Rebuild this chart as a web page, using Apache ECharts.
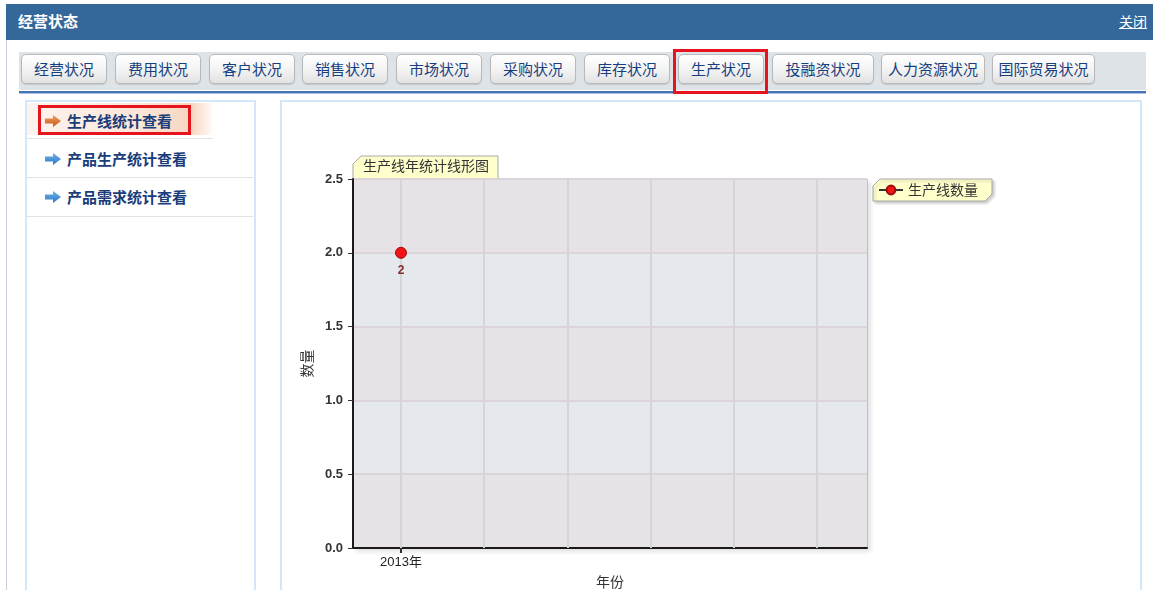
<!DOCTYPE html>
<html>
<head>
<meta charset="utf-8">
<script src="https://cdn.jsdelivr.net/npm/echarts@6/dist/echarts.min.js"></script>
<style>
  html, body { margin: 0; padding: 0; width: 1153px; height: 590px; overflow: hidden; background: #fff;
    font-family: 'Liberation Sans', 'Noto Sans CJK SC', sans-serif; }
  .abs { position: absolute; box-sizing: border-box; }
  #outerLine { left: 6px; top: 40px; width: 1px; height: 550px; background: #c6ced8; }
  #header { left: 6px; top: 4px; width: 1147px; height: 36px; background: #34689b; }
  #header .t { position: absolute; left: 12px; top: 6px; color: #fff; font-weight: bold; font-size: 15px; line-height: 22px;
    font-family: 'Noto Sans CJK SC', sans-serif; }
  #header .c { position: absolute; right: 6px; top: 7px; color: #fff; font-size: 14px; line-height: 20px; text-decoration: underline;
    font-family: 'Noto Sans CJK SC', sans-serif; }
  #tabbar { left: 19px; top: 52px; width: 1127px; height: 38px; background: #dee3e7; }
  #tabline { left: 19px; top: 91px; width: 1127px; height: 3px; background: #4474b4; border-bottom: 1px solid #a9c1e0; }
  .tab { position: absolute; top: 54px; height: 30px; border: 1px solid #b9b9b9; border-radius: 5px;
    background: linear-gradient(#ffffff, #f4f4f4 50%, #e2e2e2); box-shadow: 0 1px 1px rgba(0,0,0,0.12);
    color: #163f80; font-size: 15px; line-height: 28px; text-align: center; box-sizing: border-box;
    font-family: 'Noto Sans CJK SC', sans-serif; white-space: nowrap; }
  #redTab { left: 673px; top: 49px; width: 95px; height: 45px; border: 3px solid #e6141c; }
  #leftPanel { left: 25px; top: 100px; width: 231px; height: 500px; border: 2px solid #d3e7fa; border-bottom: none; }
  #chartPanel { left: 280px; top: 100px; width: 862px; height: 500px; border: 2px solid #d3e7fa; border-bottom: none; }
  .menu { position: absolute; left: 67px; font-size: 15px; font-weight: bold; color: #1a3d7a; line-height: 20px;
    font-family: 'Noto Sans CJK SC', sans-serif; white-space: nowrap; }
  .sep { position: absolute; left: 27px; height: 1px; background: #e2e2e2; }
  #hl { left: 27px; top: 103px; width: 186px; height: 32px;
    background: linear-gradient(to right, #fdf4ef 0%, #fbe6d8 60%, #f7d5c0 88%, #fdf1ea 97%, #ffffff 100%); }
  #redMenu { left: 38px; top: 105px; width: 153px; height: 30px; border: 3px solid #e6141c; }
  .arrow { position: absolute; left: 45px; width: 16px; height: 12px; }
  #chart { position: absolute; left: 282px; top: 102px; width: 858px; height: 488px; }
</style>
</head>
<body>
<div class="abs" id="outerLine"></div>
<div class="abs" id="header"><span class="t">经营状态</span><span class="c">关闭</span></div>
<div class="abs" id="tabbar"></div>
<div class="abs" id="tabline"></div>
<div id="tabs"></div>
<div class="abs" id="redTab"></div>

<div class="abs" id="leftPanel"></div>
<div class="abs" id="hl"></div>
<div class="sep" style="top:138px; width:186px;"></div>
<div class="sep" style="top:177px; width:226px;"></div>
<div class="sep" style="top:216px; width:226px;"></div>
<svg class="arrow" style="top:115px" viewBox="0 0 16 12"><defs><linearGradient id="go" x1="0" y1="0" x2="0" y2="1"><stop offset="0" stop-color="#f2a15a"/><stop offset="1" stop-color="#c8561a"/></linearGradient></defs><polygon points="0,3.5 8,3.5 8,0 16,6 8,12 8,8.5 0,8.5" fill="url(#go)"/></svg>
<svg class="arrow" style="top:153px" viewBox="0 0 16 12"><defs><linearGradient id="gb" x1="0" y1="0" x2="0" y2="1"><stop offset="0" stop-color="#6fb3ea"/><stop offset="1" stop-color="#2a78c8"/></linearGradient></defs><polygon points="0,3.5 8,3.5 8,0 16,6 8,12 8,8.5 0,8.5" fill="url(#gb)"/></svg>
<svg class="arrow" style="top:191px" viewBox="0 0 16 12"><polygon points="0,3.5 8,3.5 8,0 16,6 8,12 8,8.5 0,8.5" fill="url(#gb)"/></svg>
<div class="menu" style="top:111px">生产线统计查看</div>
<div class="menu" style="top:149px">产品生产统计查看</div>
<div class="menu" style="top:187px">产品需求统计查看</div>
<div class="abs" id="redMenu"></div>

<div class="abs" id="chartPanel"></div>
<div id="chart"></div>

<script>
// ---- data ----
const tabNames = ['经营状况', '费用状况', '客户状况', '销售状况', '市场状况', '采购状况', '库存状况', '生产状况', '投融资状况', '人力资源状况', '国际贸易状况'];
const tabLefts = [21, 115, 209, 302, 396, 490, 584, 678, 772, 881, 992];
const tabWidths = [86, 86, 86, 86, 86, 86, 86, 86, 102, 104, 103];
const categories = ['2013年', '', '', '', '', ''];
const lineCounts = [2];
const seriesName = '生产线数量';
const chartTitle = '生产线年统计线形图';

// ---- tabs ----
const tabsEl = document.getElementById('tabs');
tabNames.forEach(function (n, i) {
  const d = document.createElement('div');
  d.className = 'tab';
  d.style.left = tabLefts[i] + 'px';
  d.style.width = tabWidths[i] + 'px';
  d.textContent = n;
  tabsEl.appendChild(d);
});

// ---- chart ----
const chart = echarts.init(document.getElementById('chart'), null, { renderer: 'canvas' });
const font = "'Liberation Sans', 'Noto Sans CJK SC', sans-serif";
const cjk = "'Noto Sans CJK SC', sans-serif";
chart.setOption({
  animation: false,
  textStyle: { fontFamily: font },
  title: {
    text: chartTitle, left: 81, top: 57, padding: 0,
    textStyle: { fontSize: 14, fontWeight: 'normal', color: '#333', fontFamily: cjk }
  },
  legend: {
    data: [seriesName], left: 596, top: 81, padding: 0, itemWidth: 24, itemHeight: 11, itemGap: 5,
    textStyle: { fontSize: 14, color: '#333', fontFamily: cjk }
  },
  graphic: [
    { type: 'polygon', z: -1, shape: { points: [[71, 62], [79, 54], [216, 54], [216, 77], [71, 77]] },
      style: { fill: '#ffffcc', stroke: '#a9a9a9', lineWidth: 1 } },
    { type: 'polygon', z: -1, shape: { points: [[591, 84], [598, 77], [710, 77], [710, 92], [703, 99], [591, 99]] },
      style: { fill: '#ffffcc', stroke: '#a9a9a9', lineWidth: 1, shadowColor: 'rgba(0,0,0,0.2)', shadowBlur: 3, shadowOffsetX: 2, shadowOffsetY: 2 } }
  ],
  grid: [
    { left: 71, top: 77, width: 514, height: 369, show: true, backgroundColor: '#e7e2e6',
      outerBoundsMode: 'none', containLabel: false,
      borderColor: '#9a9a9a', borderWidth: 1,
      shadowColor: 'rgba(0,0,0,0.12)', shadowBlur: 5, shadowOffsetX: 3, shadowOffsetY: 3 },
    { left: 119, top: 77, width: 416, height: 369, outerBoundsMode: 'none', containLabel: false }
  ],
  xAxis: [
    { type: 'value', gridIndex: 0, min: 0, max: 1,
      axisLine: { show: true, lineStyle: { color: '#1a1a1a', width: 2 } },
      axisTick: { show: false }, axisLabel: { show: false }, splitLine: { show: false },
      name: '年份', nameLocation: 'middle', nameGap: 27,
      nameTextStyle: { fontSize: 14, color: '#333', fontFamily: cjk } },
    { type: 'category', gridIndex: 1, data: categories, boundaryGap: false, z: 2,
      axisLine: { show: false },
      axisTick: { show: true, length: 5, interval: function (i) { return i === 0; }, lineStyle: { color: '#333', width: 2 } },
      axisLabel: { interval: 0, margin: 8, fontSize: 13, color: '#222' },
      splitLine: { show: true, interval: 0, lineStyle: { color: '#d5d5d7', width: 2 } } }
  ],
  yAxis: [
    { type: 'value', gridIndex: 0, min: 0, max: 2.5, interval: 0.5,
      axisLine: { show: true, lineStyle: { color: '#1a1a1a', width: 2 } },
      axisTick: { show: true, length: 5, lineStyle: { color: '#333', width: 1 } },
      axisLabel: { margin: 10, fontSize: 13, fontWeight: 'bold', color: '#333', formatter: function (v) { return v.toFixed(1); } },
      splitLine: { show: true, lineStyle: { color: '#dbd5d9', width: 2 } },
      splitArea: { show: true, areaStyle: { color: ['#e7e2e6', '#e5e9ee'] } },
      name: '数量', nameLocation: 'middle', nameGap: 32,
      nameTextStyle: { fontSize: 14, color: '#333', fontFamily: cjk } },
    { type: 'value', gridIndex: 1, min: 0, max: 2.5, interval: 0.5, show: false }
  ],
  series: [{
    name: seriesName, type: 'line', xAxisIndex: 1, yAxisIndex: 1, z: 5,
    data: lineCounts,
    symbol: 'circle', symbolSize: 11,
    lineStyle: { color: '#333', width: 1.5 },
    itemStyle: { color: '#f01414', borderColor: '#9c0c0c', borderWidth: 1 },
    label: { show: true, position: 'bottom', distance: 6, color: '#8a2a2a', fontWeight: 'bold', fontSize: 12 }
  }]
});
</script>
</body>
</html>
